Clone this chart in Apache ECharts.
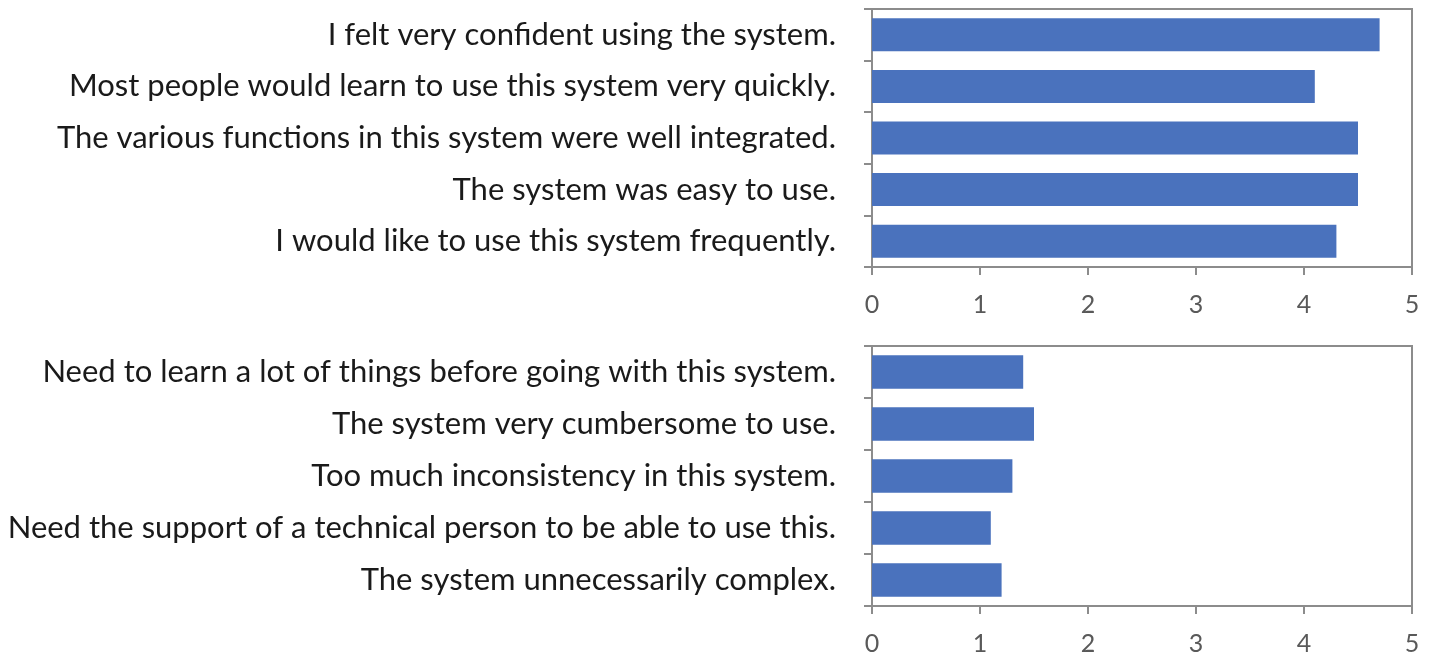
<!DOCTYPE html>
<html>
<head>
<meta charset="utf-8">
<script src="https://cdn.jsdelivr.net/npm/echarts@6/dist/echarts.min.js"></script>
<style>
  html, body { margin: 0; padding: 0; background: #fff; }
  #chart { width: 1432px; height: 662px; }
</style>
</head>
<body>
<div id="chart"></div>
<script>
// positive statements (top panel), listed top to bottom
const positiveItems = [
  'I felt very confident using the system.',
  'Most people would learn to use this system very quickly.',
  'The various functions in this system were well integrated.',
  'The system was easy to use.',
  'I would like to use this system frequently.',
];
const positiveScores = [4.7, 4.1, 4.5, 4.5, 4.3];

// negative statements (bottom panel)
const negativeItems = [
  'Need to learn a lot of things before going with this system.',
  'The system very cumbersome to use.',
  'Too much inconsistency in this system.',
  'Need the support of a technical person to be able to use this.',
  'The system unnecessarily complex.',
];
const negativeScores = [1.4, 1.5, 1.3, 1.1, 1.2];

const xTicks = ['0', '1', '2', '3', '4', '5'];

const axisGray = '#8c8c8c';
const barBlue = '#4a72bd';
const fontName = 'Lato';

function valueAxis(gridIndex) {
  return {
    type: 'value',
    gridIndex: gridIndex,
    min: 0,
    max: 5,
    interval: 1,
    axisLine: { show: true, lineStyle: { color: axisGray, width: 2 } },
    axisTick: { show: true, length: 8, lineStyle: { color: axisGray, width: 2 } },
    axisLabel: {
      margin: 25,
      color: '#595959',
      fontSize: 25,
      fontFamily: fontName,
      formatter: v => xTicks[v] || '',
    },
    splitLine: { show: false },
  };
}

function categoryAxis(gridIndex, items) {
  return {
    type: 'category',
    gridIndex: gridIndex,
    data: items,
    inverse: true,
    axisLine: { show: true, lineStyle: { color: axisGray, width: 2 } },
    axisTick: { show: true, length: 8, lineStyle: { color: axisGray, width: 2 } },
    axisLabel: {
      margin: 36,
      color: '#1a1a1a',
      fontSize: 31,
      fontFamily: fontName,
    },
  };
}

const chart = echarts.init(document.getElementById('chart'));

chart.setOption({
  animation: false,
  backgroundColor: '#fff',
  grid: [
    { left: 872, right: 20, top: 9, height: 258, show: true, borderColor: axisGray, borderWidth: 2, backgroundColor: '#fff' },
    { left: 872, right: 20, top: 346, height: 260, show: true, borderColor: axisGray, borderWidth: 2, backgroundColor: '#fff' },
  ],
  xAxis: [valueAxis(0), valueAxis(1)],
  yAxis: [categoryAxis(0, positiveItems), categoryAxis(1, negativeItems)],
  series: [
    {
      type: 'bar',
      xAxisIndex: 0,
      yAxisIndex: 0,
      data: positiveScores,
      barCategoryGap: '36%',
      itemStyle: { color: barBlue },
    },
    {
      type: 'bar',
      xAxisIndex: 1,
      yAxisIndex: 1,
      data: negativeScores,
      barCategoryGap: '36%',
      itemStyle: { color: barBlue },
    },
  ],
});
</script>
</body>
</html>
